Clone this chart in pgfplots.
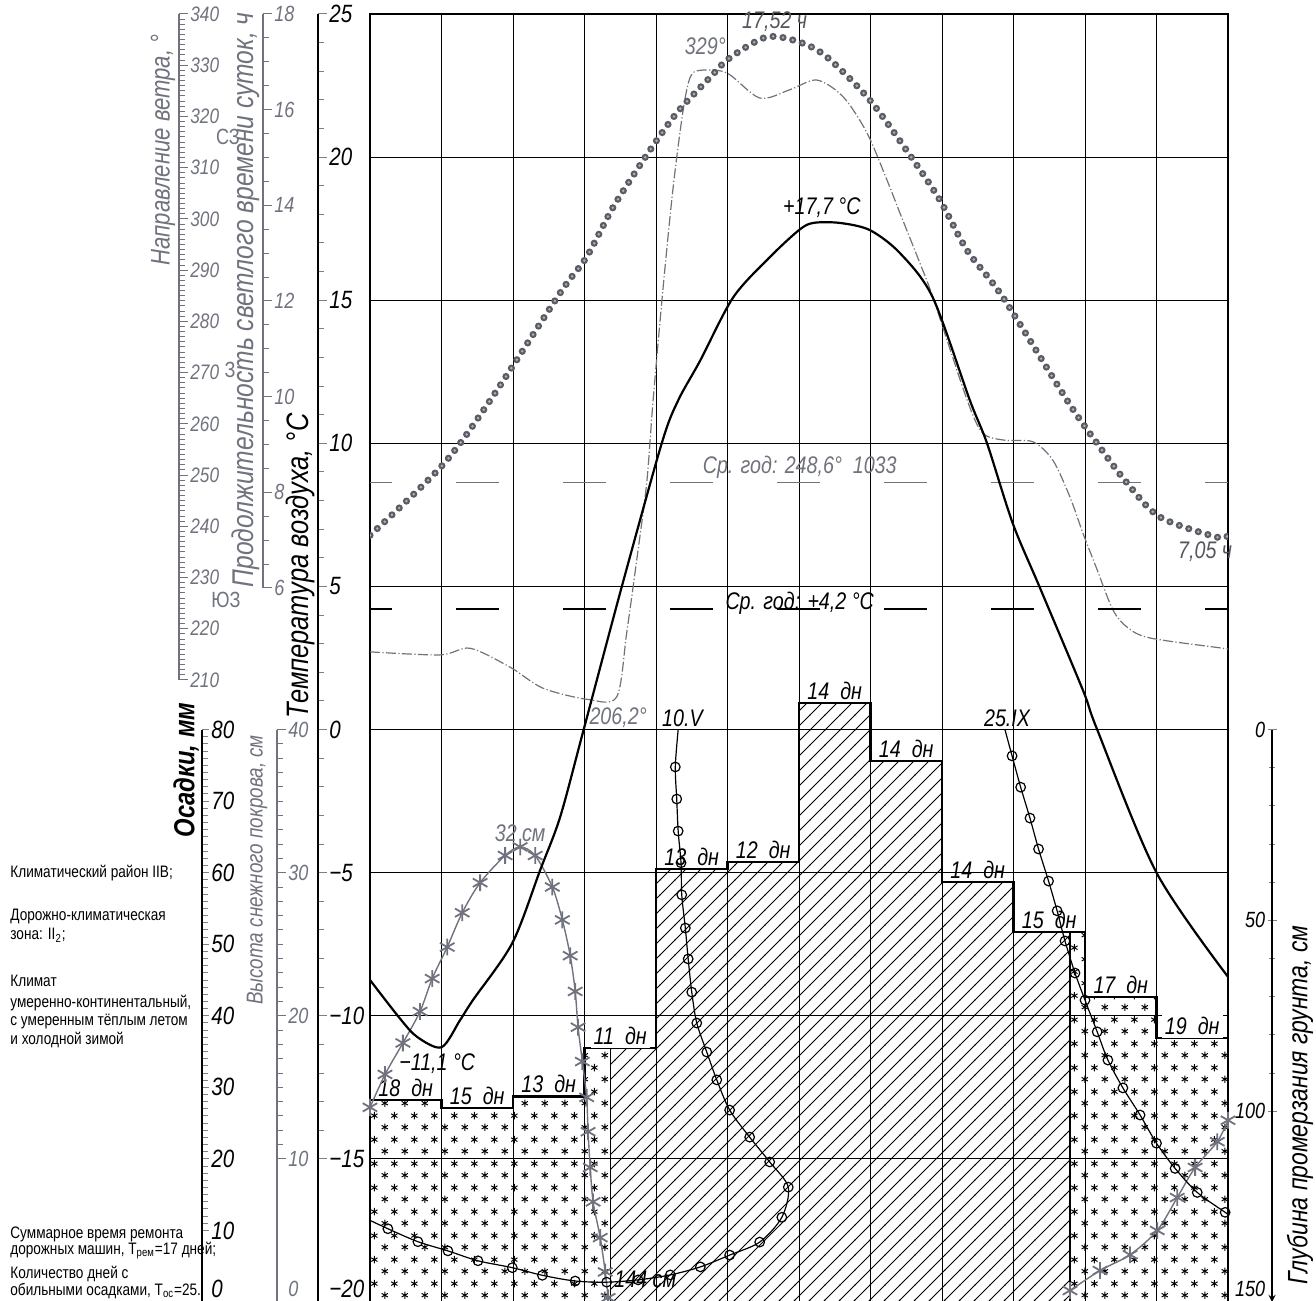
\documentclass[border=0pt]{standalone}
\usepackage{fontspec}
\setmainfont{Liberation Sans}[FakeStretch=0.82]
\usepackage{pgfplots}
\pgfplotsset{compat=1.18}
\usetikzlibrary{patterns}

\definecolor{wgray}{RGB}{112,115,126}
\definecolor{dgray}{RGB}{85,87,95}
\definecolor{dotring}{RGB}{90,92,100}
\definecolor{dotcore}{RGB}{175,177,183}

\pgfdeclarepatternformonly{rainhatch}{\pgfqpoint{-1pt}{-1pt}}{\pgfqpoint{8.5pt}{8.5pt}}{\pgfqpoint{7.5pt}{7.5pt}}{%
 \pgfsetlinewidth{0.45pt}%
 \pgfpathmoveto{\pgfqpoint{-0.2pt}{-0.2pt}}%
 \pgfpathlineto{\pgfqpoint{7.7pt}{7.7pt}}%
 \pgfusepath{stroke}}

\pgfdeclarepatternformonly{snowstars}{\pgfqpoint{0pt}{0pt}}{\pgfqpoint{10pt}{12pt}}{\pgfqpoint{10pt}{12pt}}{%
 \pgfsetlinewidth{0.5pt}%
 \pgfpathmoveto{\pgfqpoint{2.5pt}{1.1pt}}\pgfpathlineto{\pgfqpoint{2.5pt}{4.9pt}}%
 \pgfpathmoveto{\pgfqpoint{0.85pt}{2.05pt}}\pgfpathlineto{\pgfqpoint{4.15pt}{3.95pt}}%
 \pgfpathmoveto{\pgfqpoint{0.85pt}{3.95pt}}\pgfpathlineto{\pgfqpoint{4.15pt}{2.05pt}}%
 \pgfpathmoveto{\pgfqpoint{7.5pt}{7.1pt}}\pgfpathlineto{\pgfqpoint{7.5pt}{10.9pt}}%
 \pgfpathmoveto{\pgfqpoint{5.85pt}{8.05pt}}\pgfpathlineto{\pgfqpoint{9.15pt}{9.95pt}}%
 \pgfpathmoveto{\pgfqpoint{5.85pt}{9.95pt}}\pgfpathlineto{\pgfqpoint{9.15pt}{8.05pt}}%
 \pgfusepath{stroke}}

\pgfplotsset{
  box/.style={scale only axis, width=429pt, height=644pt, at={(185pt,-1pt)},
    anchor=south west, xmin=0, xmax=12, clip mode=individual},
  sc/.style={scale only axis, width=1pt, xmin=0, xmax=1, hide x axis,
    axis y line=right, tick align=outside, y axis line style={-, line width=0.6pt},
    major tick length=4.5pt, minor tick length=2.8pt, anchor=south west,
    /pgf/number format/assume math mode=true,
    yticklabel style={font=\itshape\fontsize{11}{11}\selectfont, inner sep=1pt},
    tick style={line width=0.5pt}},
  raised/.style={extra y tick style={yticklabel style={yshift=6.5pt}}},
}
\tikzset{
  lab/.style={font=\itshape\fontsize{12}{12}\selectfont, inner sep=1.5pt, anchor=south},
  ann/.style={font=\itshape\fontsize{12}{12}\selectfont, inner sep=0pt},
}

\begin{document}
\begin{tikzpicture}
\useasboundingbox (0,0) rectangle (658pt,650pt);

% ---------- main frame and grid (temperature axis) ----------
\begin{axis}[box, ymin=-20, ymax=25, xtick={0,...,12}, ytick={-20,-15,...,25},
  xticklabels={}, yticklabels={}, grid=major, grid style={black, line width=0.5pt},
  major tick length=0pt, axis line style={black, line width=0.6pt}]
\end{axis}

% ---------- precipitation bars ----------
\begin{axis}[box, hide axis, ymin=0, ymax=180]
  \addplot[const plot, draw=black, line width=0.6pt, pattern=snowstars]
    coordinates {(0,28.2) (1,27.1) (2,28.7) (3,35.5) (3.36,35.5)} \closedcycle;
  \addplot[const plot, draw=black, line width=0.6pt, pattern=rainhatch]
    coordinates {(3.36,35.5) (4,60.5) (5,61.5) (6,83.7) (7,75.6) (8,58.7) (9,51.7) (9.79,51.7)} \closedcycle;
  \addplot[const plot, draw=black, line width=0.6pt, pattern=snowstars]
    coordinates {(9.79,51.7) (10,42.6) (11,36.9) (12,36.9)} \closedcycle;
  \addplot[const plot, draw=black, line width=1.2pt]
    coordinates {(0,28.2) (1,27.1) (2,28.7) (3,35.5) (4,60.5) (5,61.5) (6,83.7) (7,75.6) (8,58.7) (9,51.7) (10,42.6) (11,36.9) (12,36.9)};
  \node[lab] at (axis cs:0.5,28.2) {18~~дн};
  \node[lab] at (axis cs:1.5,27.1) {15~~дн};
  \node[lab] at (axis cs:2.5,28.7) {13~~дн};
  \node[lab, fill=white] at (axis cs:3.5,35.5) {11~~дн};
  \node[lab] at (axis cs:4.5,60.5) {13~~дн};
  \node[lab] at (axis cs:5.5,61.5) {12~~дн};
  \node[lab] at (axis cs:6.5,83.7) {14~~дн};
  \node[lab] at (axis cs:7.5,75.6) {14~~дн};
  \node[lab] at (axis cs:8.5,58.7) {14~~дн};
  \node[lab] at (axis cs:9.5,51.7) {15~~дн};
  \node[lab] at (axis cs:10.5,42.6) {17~~дн};
  \node[lab, fill=white] at (axis cs:11.5,36.9) {19~~дн};
\end{axis}

% ---------- snow cover depth ----------
\begin{axis}[box, hide axis, ymin=0, ymax=90]
  \addplot[wgray, line width=0.7pt, smooth, mark=asterisk, mark size=4.2pt,
    mark options={line width=0.9pt, solid}]
    coordinates {(0,13.6) (0.21,15.9) (0.46,18.1) (0.70,20.3) (0.87,22.6) (1.08,24.8)
      (1.29,27.2) (1.54,29.3) (1.89,31.2) (2.10,31.8) (2.31,31.2) (2.55,29.0) (2.69,26.7)
      (2.80,24.2) (2.87,21.7) (2.91,19.2) (2.97,16.8) (3.03,14.3) (3.05,11.9) (3.08,9.4)
      (3.12,7.0) (3.22,4.5) (3.29,2.1) (3.33,0.3)};
  \addplot[wgray, line width=0.7pt, smooth, mark=asterisk, mark size=4.2pt,
    mark options={line width=0.9pt, solid}]
    coordinates {(9.79,0.8) (10.21,2.2) (10.63,3.3) (11.01,5.0) (11.29,7.3) (11.54,9.4)
      (11.85,11.2) (12,12.7)};
\end{axis}

% ---------- frost depth ----------
\begin{axis}[box, hide axis, ymin=-187.5, ymax=150, y dir=reverse]
  \addplot[black, line width=0.6pt, smooth, mark=o, mark size=2.4pt,
    mark options={fill=white, solid}, mark indices={2,...,18}]
    coordinates {(8.88,0) (8.98,6.9) (9.10,15.1) (9.23,23.2) (9.35,31.3) (9.49,39.7)
      (9.61,47.5) (9.72,55.4) (9.86,63.8) (10.0,70.9) (10.17,79.2) (10.32,86.6)
      (10.53,93.9) (10.77,101) (11.0,108.4) (11.26,115) (11.57,121.3) (11.96,126.5) (12,127)};
  \addplot[black, line width=0.6pt, smooth, mark=o, mark size=2.4pt,
    mark options={fill=white, solid}, mark indices={2,...,30}]
    coordinates {(0,128.6) (0.25,130.8) (0.67,134.2) (1.09,136.6) (1.51,139.2) (1.99,141)
      (2.41,143) (2.87,144.5) (3.31,144.8) (3.75,144.2) (4.2,142.9) (4.62,140.8)
      (5.03,137.7) (5.45,134.3) (5.76,127.8) (5.85,119.9) (5.59,113.3) (5.31,106.8)
      (5.03,99.7) (4.85,91.8) (4.71,84.5) (4.57,76.9) (4.50,68.8) (4.45,60.1) (4.41,52.0)
      (4.36,43.3) (4.35,34.9) (4.31,26.6) (4.29,18.2) (4.27,9.8) (4.31,0)};
\end{axis}

% ---------- wind direction ----------
\begin{axis}[box, hide axis, ymin=88.6, ymax=340]
  \addplot[wgray, line width=0.6pt, smooth, dash pattern=on 5pt off 1.2pt on 0.6pt off 1.2pt]
    coordinates {(0,215.5) (0.98,214.9) (1.40,216.2) (1.96,212.5) (2.42,208.4) (3.05,206.2)
      (3.45,206.7) (3.59,219.2) (3.73,233.4) (3.87,248.5) (3.96,264.7) (4.10,286.7)
      (4.24,306.2) (4.38,321.3) (4.48,327.7) (4.62,329.0) (4.99,328.5) (5.45,323.6)
      (5.87,325.2) (6.25,327.1) (6.62,323.8) (6.95,316.8) (7.23,307.6) (7.41,301.2)
      (7.69,291.4) (7.87,284.8) (8.35,264.7) (8.57,258.2) (8.88,256.8) (9.27,256.5)
      (9.55,252.9) (9.79,245.7) (9.97,238.7) (10.17,231.5) (10.39,223.7) (10.59,220.3)
      (10.91,218.2) (11.93,216.2) (12,216.0)};
  \addplot[wgray, line width=0.6pt, dash pattern=on 21.5pt off 32pt, dash phase=10.5pt]
    coordinates {(0,248.6) (12,248.6)};
\end{axis}

% ---------- daylight duration ----------
\begin{axis}[box, hide axis, ymin=-8.93, ymax=18]
  \addplot[dotring, line width=3.6pt, line cap=round, dash pattern=on 0pt off 5pt, smooth]
    coordinates {(0,7.10) (1.01,8.56) (1.68,9.92) (2.66,12.17) (3.03,12.92) (3.40,13.96)
      (3.87,15.05) (4.29,15.93) (4.76,16.68) (5.03,17.08) (5.55,17.52) (6.01,17.41)
      (6.39,17.10) (6.99,16.20) (7.55,15.05) (7.97,14.11) (8.35,13.06) (8.85,12.08)
      (9.75,9.92) (10.17,9.02) (10.59,8.19) (11.05,7.48) (11.85,7.06) (12,7.10)};
  \addplot[dotcore, line width=1.4pt, line cap=round, dash pattern=on 0pt off 5pt, smooth]
    coordinates {(0,7.10) (1.01,8.56) (1.68,9.92) (2.66,12.17) (3.03,12.92) (3.40,13.96)
      (3.87,15.05) (4.29,15.93) (4.76,16.68) (5.03,17.08) (5.55,17.52) (6.01,17.41)
      (6.39,17.10) (6.99,16.20) (7.55,15.05) (7.97,14.11) (8.35,13.06) (8.85,12.08)
      (9.75,9.92) (10.17,9.02) (10.59,8.19) (11.05,7.48) (11.85,7.06) (12,7.10)};
\end{axis}

% ---------- air temperature ----------
\begin{axis}[box, hide axis, ymin=-20, ymax=25]
  \addplot[black, line width=0.9pt, dash pattern=on 21.5pt off 32pt, dash phase=10.5pt]
    coordinates {(0,4.2) (12,4.2)};
  \addplot[black, line width=1.1pt, smooth]
    coordinates {(0,-8.75) (0.42,-10.1) (0.66,-10.74) (1.0,-11.1) (1.26,-10.15) (1.44,-9.45)
      (1.99,-7.46) (2.38,-4.91) (2.66,-3.05) (2.98,-0.08) (3.52,4.98) (4.08,10.0) (4.31,11.5)
      (4.62,12.9) (5.08,15.1) (5.59,16.5) (6.0,17.45) (6.2,17.7) (6.57,17.7) (6.99,17.45)
      (7.41,16.65) (7.87,15.1) (8.39,11.5) (8.63,10.0) (8.99,7.2) (9.37,4.95) (9.97,1.38)
      (10.17,0.0) (11.0,-5.0) (12,-8.64)};
  \node[ann] at (axis cs:0.94,-11.69) {−11,1 °C};
  \node[ann] at (axis cs:6.32,18.22) {+17,7 °C};
  \node[ann, text=dgray] at (axis cs:5.66,24.72) {17,52 ч};
  \node[ann, text=wgray] at (axis cs:4.69,23.88) {329°};
  \node[ann, text=wgray] at (axis cs:3.47,0.41) {206,2°};
  \node[ann] at (axis cs:4.37,0.41) {10.V};
  \node[ann] at (axis cs:8.91,0.41) {25.IX};
  \node[ann, text=dgray] at (axis cs:11.68,6.2) {7,05 ч};
  \node[ann, text=wgray] at (axis cs:2.10,-3.62) {32 см};
  \node[ann] at (axis cs:3.85,-19.2) {144 см};
  \node[ann, text=wgray] at (axis cs:6.01,9.17) {Ср. год: 248,6°~~1033};
  \node[ann] at (axis cs:6.01,4.42) {Ср. год: +4,2 °С};
\end{axis}

% ---------- scales ----------
% wind direction
\begin{axis}[sc, at={(88.5pt,310pt)}, height=333pt, ymin=210, ymax=340,
  ytick={210,220,...,340}, minor y tick num=9, y axis line style={wgray},
  tick style={wgray}, yticklabel style={text=wgray, font=\itshape\fontsize{10.5}{10.5}\selectfont}]
\end{axis}
% daylight
\begin{axis}[sc, at={(130.5pt,356pt)}, height=287pt, ymin=6, ymax=18,
  ytick={6,8,...,18}, minor y tick num=3, y axis line style={wgray},
  tick style={wgray}, yticklabel style={text=wgray}]
\end{axis}
% temperature
\begin{axis}[sc, raised, at={(158pt,-1pt)}, height=644pt, ymin=-20, ymax=25,
  ytick={-15,-10,...,25}, yticklabels={−15,−10,−5,0,5,10,15,20,25},
  extra y ticks={-20}, extra y tick labels={−20},
  minor y tick num=4, yticklabel style={font=\itshape\fontsize{12.5}{12.5}\selectfont}]
\end{axis}
% precipitation
\begin{axis}[sc, raised, at={(100pt,-1pt)}, height=286.2pt, ymin=0, ymax=80,
  ytick={10,20,...,80}, extra y ticks={0}, extra y tick labels={0},
  minor y tick num=9, major tick length=3.5pt, minor tick length=3pt,
  yticklabel style={font=\itshape\fontsize{12.5}{12.5}\selectfont}]
\end{axis}
% snow
\begin{axis}[sc, raised, at={(137.5pt,-1pt)}, height=286.2pt, ymin=0, ymax=40,
  ytick={10,20,30,40}, extra y ticks={0}, extra y tick labels={0},
  minor y tick num=9, y axis line style={wgray},
  tick style={wgray}, yticklabel style={text=wgray}]
\end{axis}
% frost depth
\begin{axis}[sc, raised, axis y line=left, at={(636pt,-1pt)}, height=286.2pt, ymin=0, ymax=150,
  y dir=reverse, ytick={0,50,100}, extra y ticks={150}, extra y tick labels={150},
  minor y tick num=4]
\end{axis}

% ---------- axis titles ----------
\node[rotate=90, text=wgray, font=\itshape\fontsize{13.5}{13.5}\selectfont] at (81.5pt,575pt) {Направление ветра, °};
\node[rotate=90, text=wgray, font=\itshape\fontsize{15}{15}\selectfont] at (123pt,500pt) {Продолжительность светлого времени суток, ч};
\node[rotate=90, font=\itshape\fontsize{15.5}{15.5}\selectfont] at (150pt,367pt) {Температура воздуха, °C};
\node[rotate=90, font=\bfseries\itshape\fontsize{14.5}{14.5}\selectfont] at (93pt,265pt) {Осадки, мм};
\node[rotate=90, text=wgray, font=\itshape\fontsize{11.5}{11.5}\selectfont] at (128.5pt,215pt) {Высота снежного покрова, см};
\node[rotate=90, font=\itshape\fontsize{14}{14}\selectfont] at (650pt,97.5pt) {Глубина промерзания грунта, см};

\node[text=wgray, font=\fontsize{11}{11}\selectfont] at (114pt,581.5pt) {СЗ};
\node[text=wgray, font=\fontsize{11}{11}\selectfont] at (115pt,465pt) {З};
\node[text=wgray, font=\fontsize{11}{11}\selectfont] at (113pt,350pt) {ЮЗ};

% ---------- left notes ----------
\begin{scope}[every node/.style={anchor=west, inner sep=0pt, font=\fontsize{8.3}{8.3}\selectfont}]
\node at (5pt,213.5pt) {Климатический район IIВ;};
\node at (5pt,191.5pt) {Дорожно-климатическая};
\node at (5pt,182.5pt) {зона: II\textsubscript{2};};
\node at (5pt,159.5pt) {Климат};
\node at (5pt,148.5pt) {умеренно-континентальный,};
\node at (5pt,139pt) {с умеренным тёплым летом};
\node at (5pt,130pt) {и холодной зимой};
\node at (5pt,33pt) {Суммарное время ремонта};
\node at (5pt,24.5pt) {дорожных машин, T\textsubscript{рем}=17 дней;};
\node at (5pt,13pt) {Количество дней с};
\node at (5pt,4.5pt) {обильными осадками, T\textsubscript{ос}=25.};
\end{scope}
\end{tikzpicture}
\end{document}
